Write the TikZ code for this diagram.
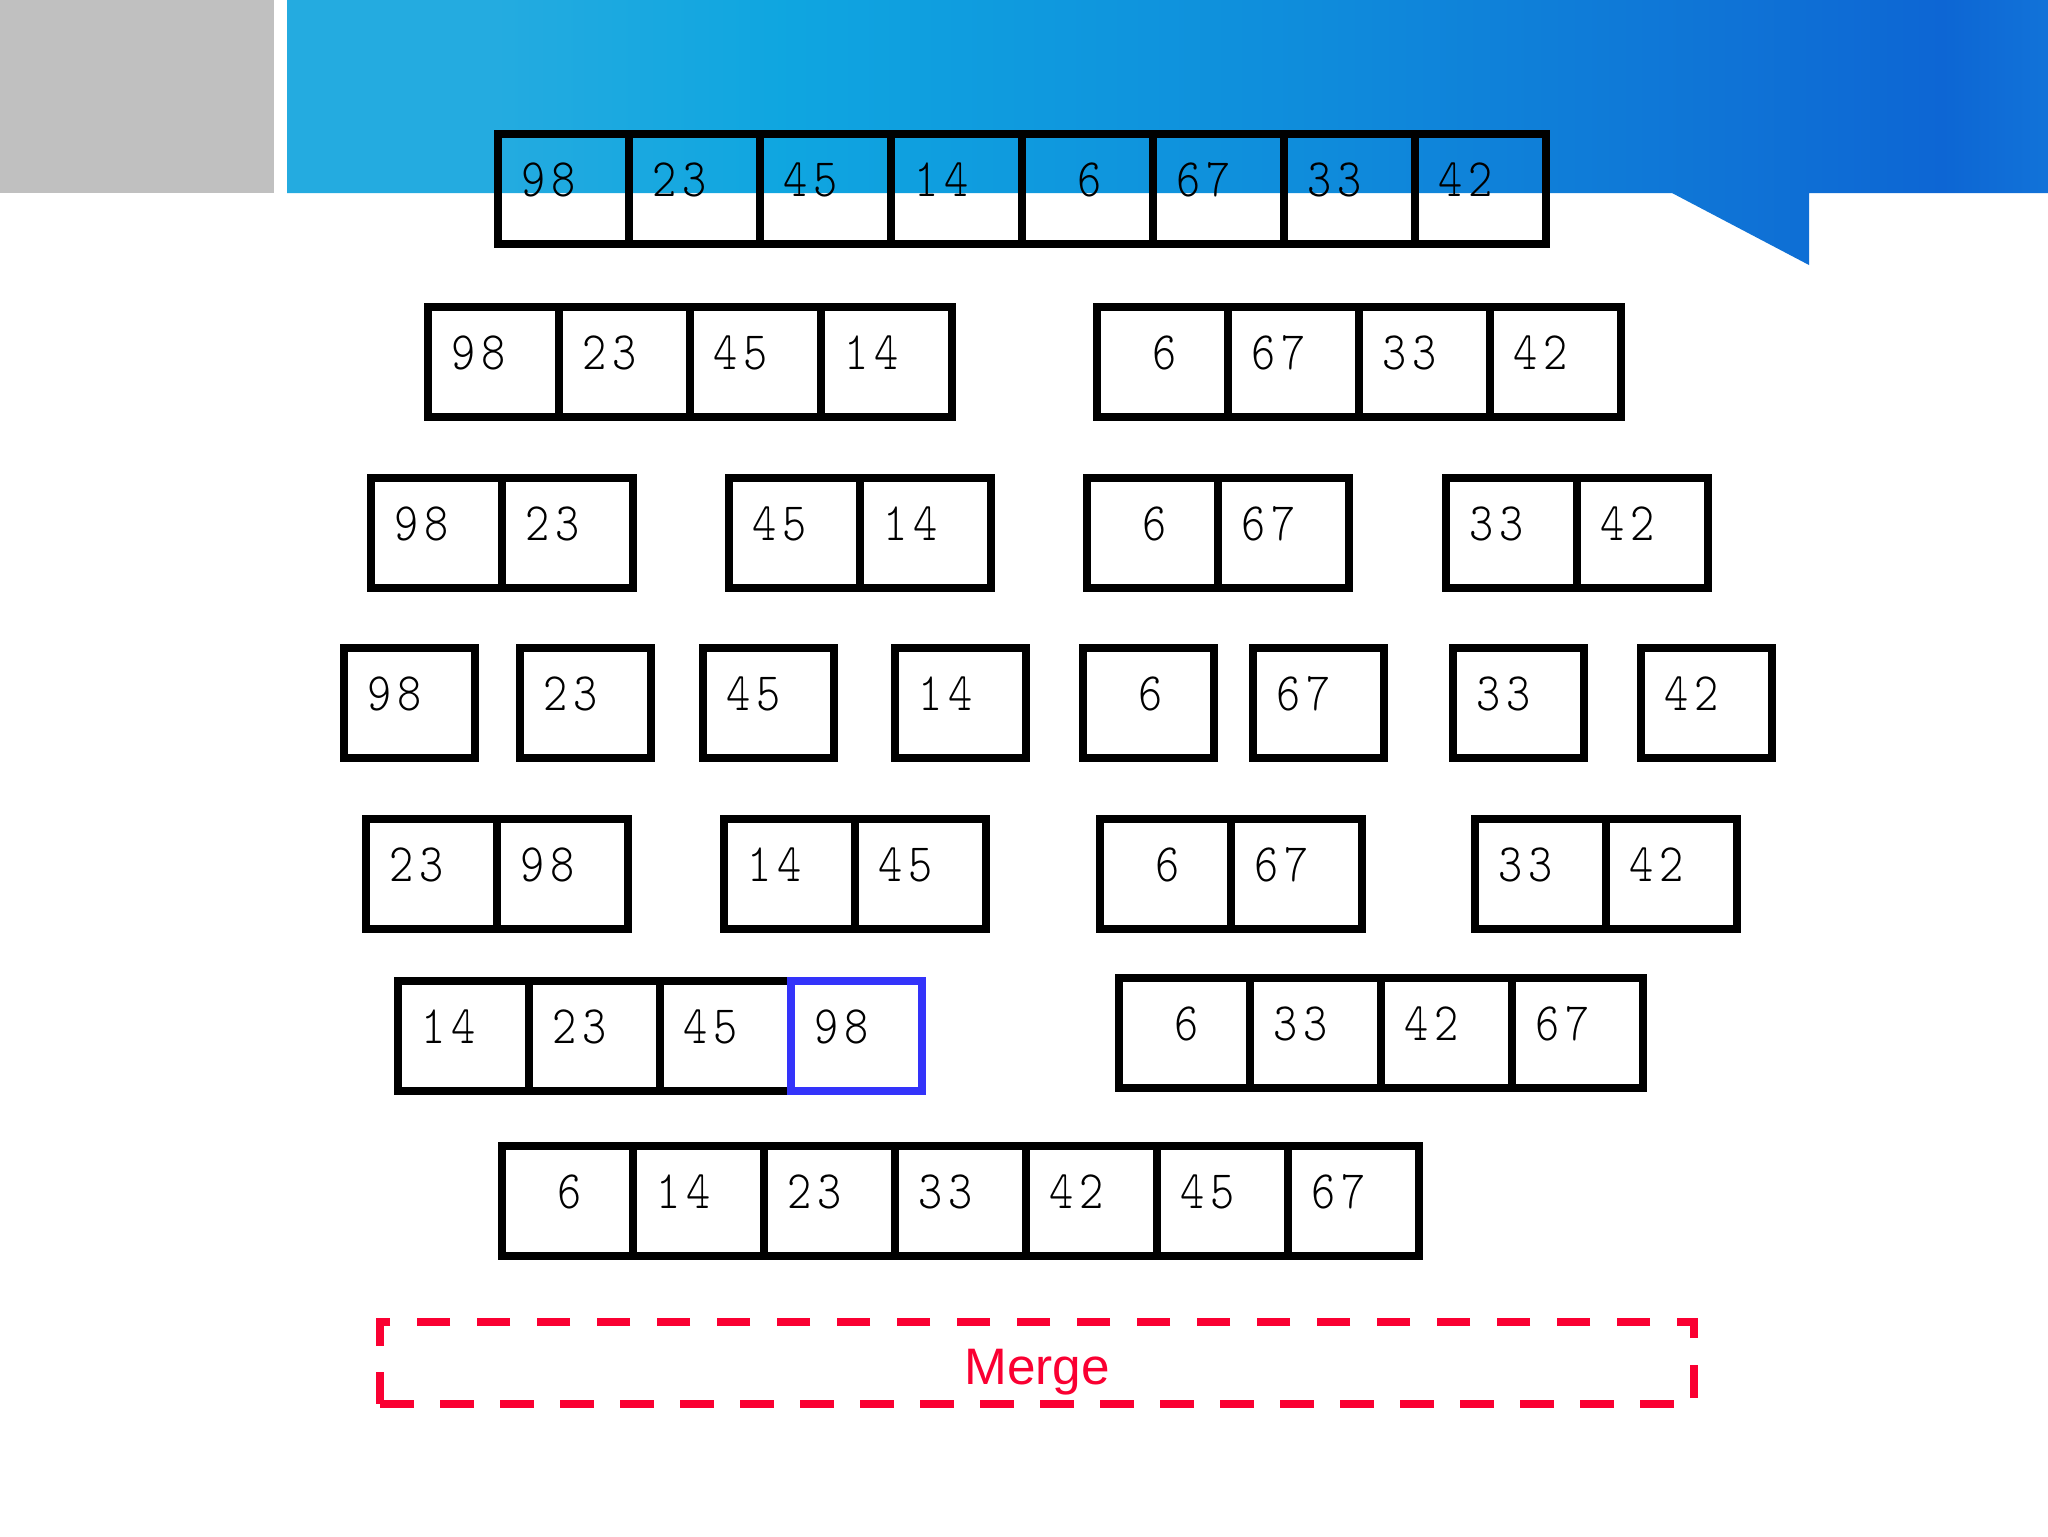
\documentclass[tikz,border=0pt]{standalone}
\usepackage{fontspec}
\usepackage{graphicx}
\usetikzlibrary{positioning}

\newfontfamily\cellfont{lmmonolt10-regular.otf}[FakeStretch=0.85,LetterSpace=12]
\newfontfamily\mergefont{Liberation Sans}

\definecolor{bannergray}{RGB}{192,192,192}
\definecolor{hiblue}{RGB}{51,51,250}
\definecolor{mergered}{RGB}{250,0,50}

\pgfdeclarehorizontalshading{banner}{100bp}{%
  rgb(0bp)=(0.14,0.67,0.88); rgb(25bp)=(0.14,0.67,0.88); rgb(31bp)=(0.14,0.67,0.88);
  rgb(39bp)=(0.06,0.65,0.88); rgb(54bp)=(0.06,0.55,0.86); rgb(65bp)=(0.06,0.46,0.84);
  rgb(72bp)=(0.05,0.40,0.83); rgb(75bp)=(0.07,0.45,0.85); rgb(100bp)=(0.07,0.45,0.85)}

\tikzset{
  cell/.style={draw, line width=0.8mm, outer sep=0pt, inner xsep=2.3mm, inner ysep=0pt,
    text width=8.5mm, align=left, minimum height=11mm, text height=4mm, text depth=2.6mm,
    font=\cellfont\fontsize{15.4pt}{15.4pt}\selectfont},
  hicell/.style={cell, draw=hiblue},
  mergebox/.style={draw=mergered, line width=0.8mm, dash pattern=on 3.35mm off 2.65mm,
    minimum width=131.4mm, minimum height=8.2mm, inner sep=0pt, text=mergered,
    text height=4.3mm, text depth=0mm,
    font=\mergefont\fontsize{14.6pt}{14.6pt}\selectfont}
}

% values below 10 keep the room of a second digit
\newcommand\cellval[1]{\ifnum#1<10 \phantom{0}\hspace{0.8mm}\fi#1}
% name, left x, centre y, values
\newcommand\cellgroup[4]{%
  \foreach \v [count=\i] in {#4}
    \path (#2+131*\i-65.5,#3) node[cell] (#1\i) {\cellval{\v}};}

\begin{document}
\begin{tikzpicture}[x=0.1mm, y=-0.1mm]
   \useasboundingbox (0,0) rectangle (2048,1536);
   \fill[white] (0,0) rectangle (2048,1536);

   % banner
   \fill[bannergray] (0,0) rectangle (274,193);
   \shade[shading=banner]
     (287,0) -- (2048,0) -- (2048,193) -- (1809,193) -- (1809,265) -- (1672,193)
     -- (287,193) -- cycle;

   % split
   \cellgroup{ra}{498}{189}{98,23,45,14,6,67,33,42}
   \cellgroup{rbl}{428}{362}{98,23,45,14}
   \cellgroup{rbr}{1097}{362}{6,67,33,42}
   \cellgroup{rca}{371}{533}{98,23}
   \cellgroup{rcb}{729}{533}{45,14}
   \cellgroup{rcc}{1087}{533}{6,67}
   \cellgroup{rcd}{1446}{533}{33,42}
   \cellgroup{rda}{344}{703}{98}
   \cellgroup{rdb}{520}{703}{23}
   \cellgroup{rdc}{703}{703}{45}
   \cellgroup{rdd}{895}{703}{14}
   \cellgroup{rde}{1083}{703}{6}
   \cellgroup{rdf}{1253}{703}{67}
   \cellgroup{rdg}{1453}{703}{33}
   \cellgroup{rdh}{1641}{703}{42}

   % merge
   \cellgroup{rea}{366}{874}{23,98}
   \cellgroup{reb}{724}{874}{14,45}
   \cellgroup{rec}{1100}{874}{6,67}
   \cellgroup{red}{1475}{874}{33,42}
   \cellgroup{rfl}{398}{1036}{14,23,45}
   \node[hicell, right=0pt of rfl3] (rfl4) {98};
   \cellgroup{rfr}{1119}{1033}{6,33,42,67}
   \cellgroup{rg}{502}{1201}{6,14,23,33,42,45,67}

   \path (1037,1363) node[mergebox] (merge) {Merge};
\end{tikzpicture}
\end{document}
